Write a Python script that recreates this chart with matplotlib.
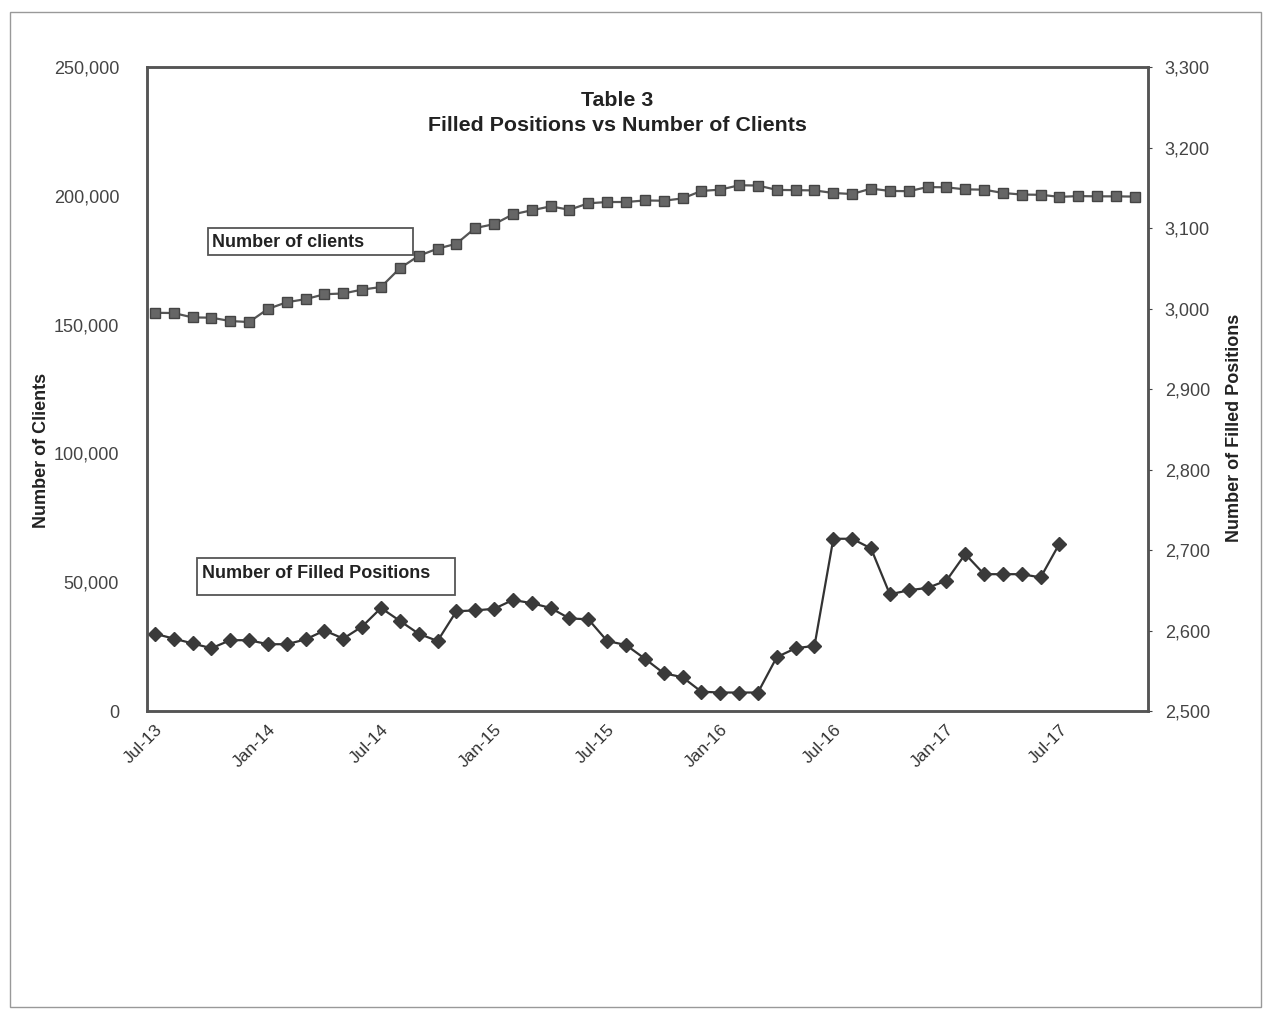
import matplotlib.pyplot as plt
from matplotlib.patches import Rectangle

plt.rcParams['font.family'] = ['Liberation Sans', 'DejaVu Sans']

# months Jul-13 .. Nov-17 (index 0 = Jul-13)
tick_pos = [0, 6, 12, 18, 24, 30, 36, 42, 48]
tick_labels = ['Jul-13', 'Jan-14', 'Jul-14', 'Jan-15', 'Jul-15',
               'Jan-16', 'Jul-16', 'Jan-17', 'Jul-17']

clients = [154600, 154500, 152800, 152700, 151400, 151000, 156100, 158700,
           159900, 161800, 162100, 163600, 164600, 171900, 176700, 179500,
           181400, 187500, 189000, 192800, 194400, 195900, 194600, 197100,
           197600, 197600, 198200, 198100, 199000, 201900, 202400, 204100,
           204000, 202300, 202200, 202100, 201100, 200700, 202800, 201900,
           201800, 203400, 203300, 202500, 202400, 201100, 200500, 200400,
           199600, 199900, 199800, 199800, 199700]

filled = [2596, 2590, 2584, 2578, 2588, 2588, 2583, 2583, 2589, 2600,
          2590, 2605, 2628, 2612, 2596, 2587, 2624, 2625, 2627, 2638,
          2634, 2628, 2615, 2614, 2587, 2582, 2565, 2547, 2542, 2524,
          2523, 2523, 2523, 2567, 2578, 2581, 2714, 2714, 2702, 2645,
          2650, 2653, 2662, 2695, 2670, 2670, 2670, 2666, 2708]

fig = plt.figure(figsize=(12.69, 10.11), dpi=100)
ax = fig.add_axes([0.1158, 0.2967, 0.7889, 0.637])
ax2 = ax.twinx()

ax.plot(range(len(clients)), clients, color='#555555', linewidth=1.6,
        marker='s', markersize=7, markerfacecolor='#666666', markeredgecolor='#444444')
ax2.plot(range(len(filled)), filled, color='#333333', linewidth=1.6,
         marker='D', markersize=7, markerfacecolor='#3a3a3a', markeredgecolor='#3a3a3a')

ax.set_xlim(-0.42, 52.7)
ax.set_ylim(0, 250000)
ax2.set_ylim(2500, 3300)
ax.set_yticks([0, 50000, 100000, 150000, 200000, 250000])
ax.set_yticklabels(['0', '50,000', '100,000', '150,000', '200,000', '250,000'])
ax2.set_yticks(range(2500, 3301, 100))
ax2.set_yticklabels(['{:,}'.format(v) for v in range(2500, 3301, 100)])
ax.set_xticks(tick_pos)
ax.set_xticklabels(tick_labels, rotation=45, ha='right', rotation_mode='anchor')

ax.tick_params(axis='y', length=0, pad=20, labelsize=13, colors='#444444')
ax2.tick_params(axis='y', length=3, pad=9, labelsize=13, colors='#444444')
ax.tick_params(axis='x', length=0, pad=8, labelsize=12.5, colors='#333333')

for a in (ax, ax2):
    for s in a.spines.values():
        s.set_linewidth(1.8)
        s.set_color('#555555')

ax.set_ylabel('Number of Clients', fontsize=13, fontweight='bold', color='#222222')
ax.yaxis.set_label_coords(-0.097, 0.405)
ax2.set_ylabel('Number of Filled Positions', fontsize=13, fontweight='bold', color='#222222')
ax2.yaxis.set_label_coords(1.078, 0.44)

ax.text(0.47, 0.963, 'Table 3\nFilled Positions vs Number of Clients',
        transform=ax.transAxes, ha='center', va='top', fontsize=15.4,
        fontweight='bold', linespacing=1.4, color='#222222')

# label boxes
ax.add_patch(Rectangle((0.061, 0.708), 0.205, 0.042, transform=ax.transAxes,
                       facecolor='none', edgecolor='#555555', linewidth=1.3))
ax.text(0.065, 0.727, 'Number of clients', transform=ax.transAxes,
        fontsize=13, fontweight='bold', va='center', color='#222222')
ax.add_patch(Rectangle((0.050, 0.180), 0.258, 0.0575, transform=ax.transAxes,
                       facecolor='none', edgecolor='#555555', linewidth=1.3))
ax.text(0.055, 0.214, 'Number of Filled Positions', transform=ax.transAxes,
        fontsize=13, fontweight='bold', va='center', color='#222222')

# page border of the scan
fig.patches.append(Rectangle((0.008, 0.004), 0.986, 0.984, transform=fig.transFigure,
                             fill=False, edgecolor='#999999', linewidth=1))

plt.savefig('out.png', dpi=100)
